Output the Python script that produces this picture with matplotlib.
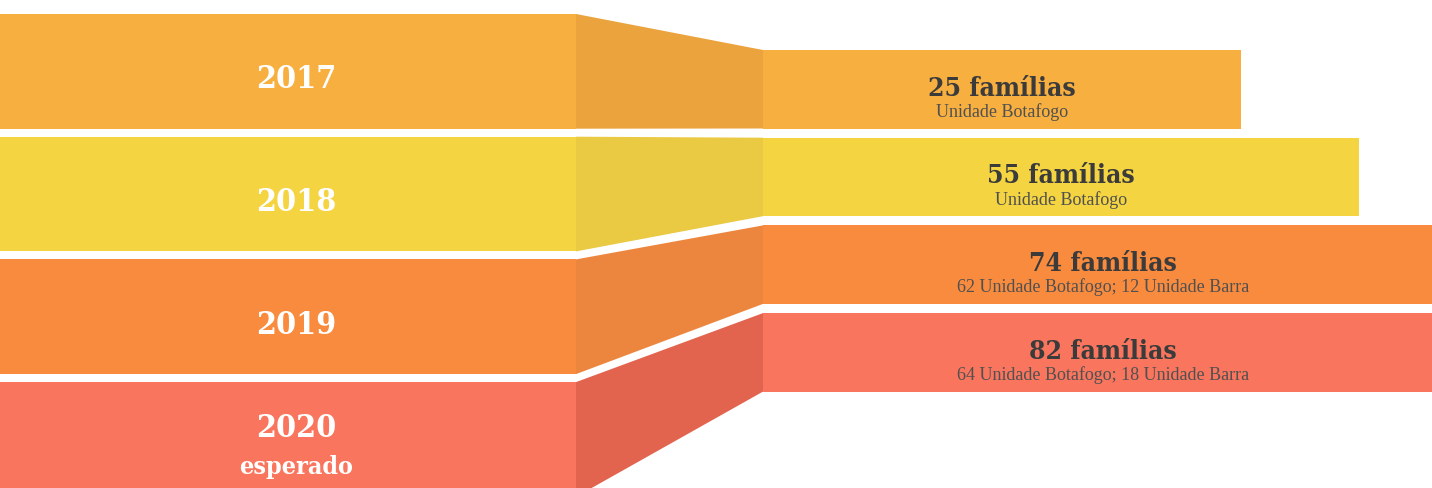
import matplotlib
matplotlib.use("Agg")
import matplotlib.pyplot as plt
from matplotlib.patches import Polygon, Rectangle

# ---- data ----
years = ["2017", "2018", "2019", "2020"]
year_notes = ["", "", "", "esperado"]
families = [25, 55, 74, 82]
details = ["Unidade Botafogo", "Unidade Botafogo",
           "62 Unidade Botafogo; 12 Unidade Barra",
           "64 Unidade Botafogo; 18 Unidade Barra"]
bar_lengths = [478, 596, 680, 680]   # displayed bar lengths

# ---- style ----
block_colors = ["#F7AF40", "#F5D441", "#F98B3E", "#F9755D"]
conn_colors = ["#EBA33D", "#EAC943", "#EC863E", "#E3644E"]
text_dark = "#3B3B3B"
sub_color = "#505050"

W, H = 1432, 488
fig = plt.figure(figsize=(W / 100, H / 100), dpi=100)
ax = fig.add_axes([0, 0, 1, 1])
ax.set_xlim(0, W)
ax.set_ylim(H, 0)
ax.axis("off")

# layout
left_w = 576
bar_x0 = 763
L_top0, L_pitch, L_h = 14, 122.7, 114.7
R_top0, R_pitch, R_h = 50, 87.7, 78.5

head_font = dict(family="DejaVu Serif", fontweight="bold", fontstretch="condensed")
sub_font = dict(family="Liberation Serif")

for i, yr in enumerate(years):
    lt = L_top0 + i * L_pitch
    lb = lt + L_h
    rt = R_top0 + i * R_pitch
    rb = rt + R_h
    ax.add_patch(Rectangle((0, lt), left_w, L_h, facecolor=block_colors[i], edgecolor="none"))
    ax.add_patch(Polygon([(left_w, lt), (bar_x0, rt), (bar_x0, rb), (left_w, lb)],
                         closed=True, facecolor=conn_colors[i], edgecolor="none"))
    ax.add_patch(Rectangle((bar_x0, rt), bar_lengths[i], R_h,
                           facecolor=block_colors[i], edgecolor="none"))
    if year_notes[i]:
        ax.text(left_w / 2 + 8, lt + 46, yr, color="white", fontsize=23,
                ha="center", va="center", **head_font)
        ax.text(left_w / 2 + 8, lt + 85, year_notes[i], color="white", fontsize=18,
                ha="center", va="center", **head_font)
    else:
        ax.text(left_w / 2 + 8, lt + 66, yr, color="white", fontsize=23,
                ha="center", va="center", **head_font)
    cx = bar_x0 + bar_lengths[i] / 2
    ax.text(cx, rt + 38, f"{families[i]} famílias", color=text_dark, fontsize=19,
            ha="center", va="center", **head_font)
    ax.text(cx, rt + 62, details[i], color=sub_color, fontsize=13,
            ha="center", va="center", **sub_font)

fig.savefig("out.png", dpi=100)
